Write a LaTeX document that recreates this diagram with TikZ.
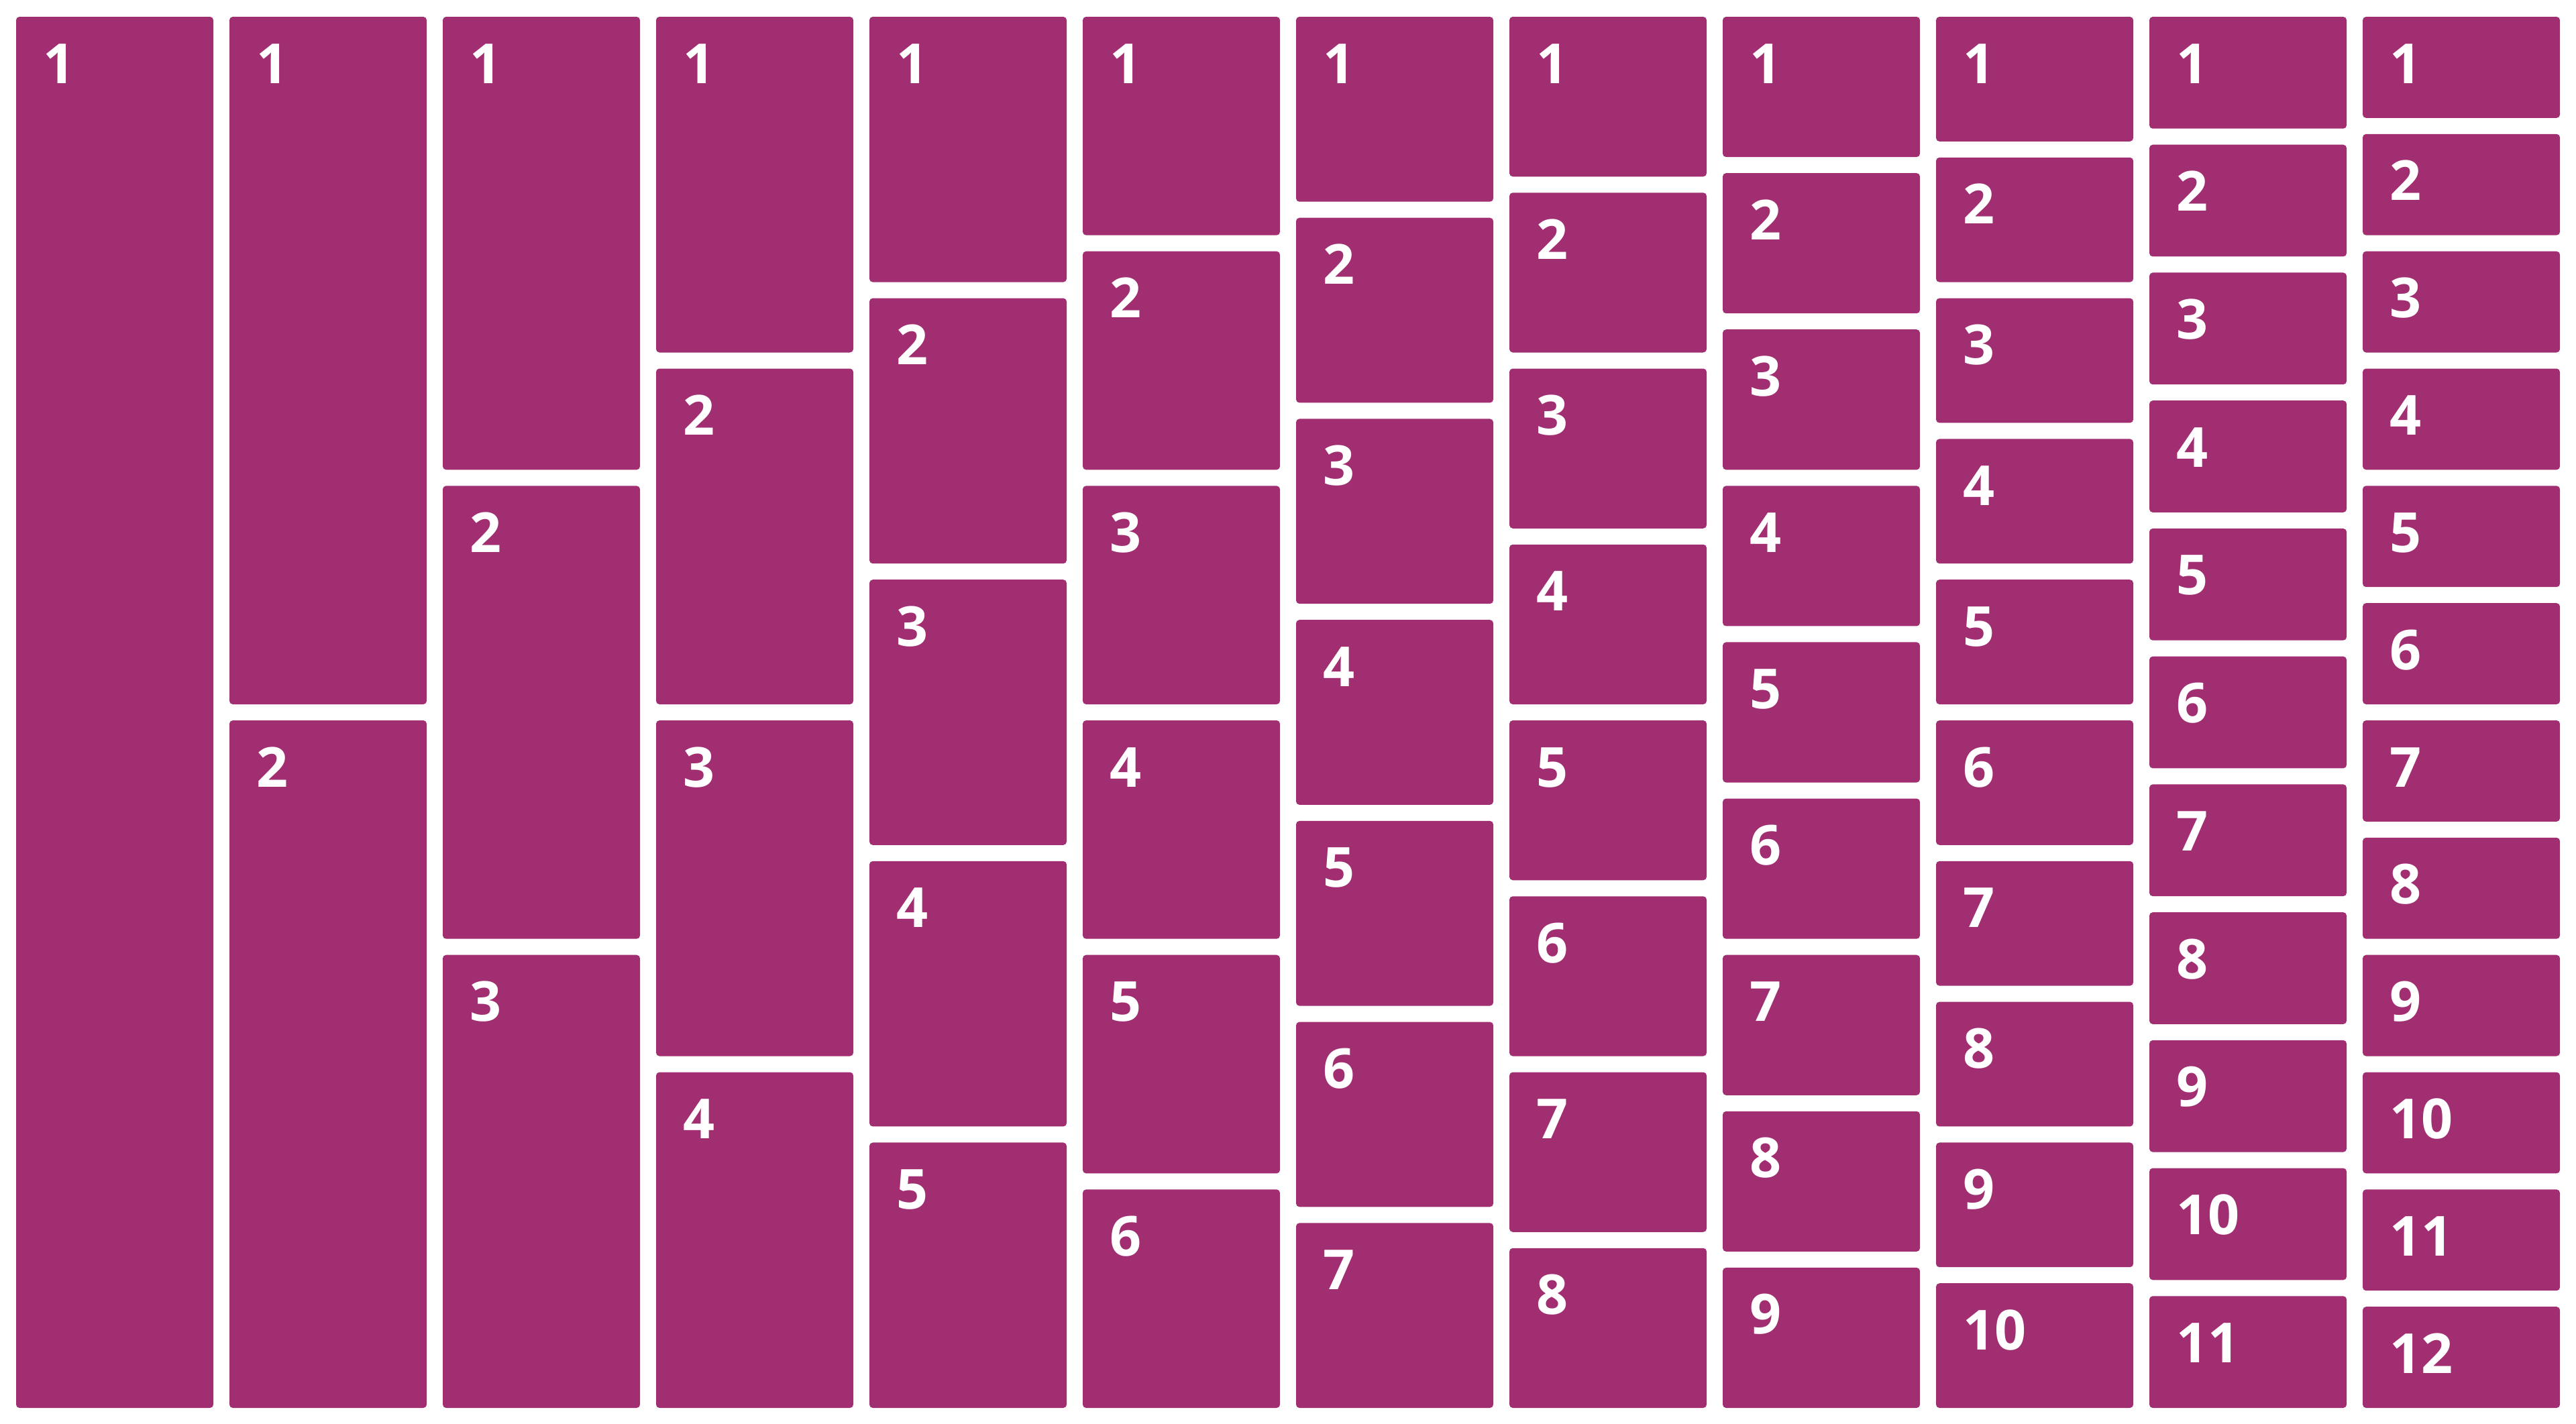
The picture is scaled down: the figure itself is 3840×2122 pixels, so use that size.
\documentclass[tikz,border=0pt]{standalone}
\usepackage{fontspec}
\setsansfont{Open Sans}
\usepackage{tikz}
\usepackage{xcolor}
\usetikzlibrary{positioning,calc}

\definecolor{tilefill}{RGB}{162,46,114}

\begin{document}
\begin{tikzpicture}[x=0.25pt,y=-0.25pt,
  tilebox/.style={fill=tilefill,draw=none,rounded corners=1.25pt,inner sep=0pt,outer sep=0pt,minimum width=73.5pt,anchor=north west},
  tilenum/.style={text=white,font=\sffamily\bfseries\fontsize{20.6}{24}\selectfont,inner sep=0pt,anchor=base west}]
  \useasboundingbox (0,0) rectangle (3840,2122);
  % column k holds k tiles of equal height
  \foreach \k in {1,...,12} {
    \pgfmathsetmacro{\h}{(2074-(\k-1)*24)/\k}
    \pgfmathsetmacro{\xx}{24+(\k-1)*318}
    \foreach \i in {1,...,\k} {
      \pgfmathsetmacro{\yy}{25+(\i-1)*(\h+24)}
      \node[tilebox,minimum height=\h*0.25pt] (b\k-\i) at (\xx,\yy) {};
      \node[tilenum] (n\k-\i) at ([xshift=10pt,yshift=-24.75pt]b\k-\i.north west) {\i};
    }
  }
\end{tikzpicture}
\end{document}
